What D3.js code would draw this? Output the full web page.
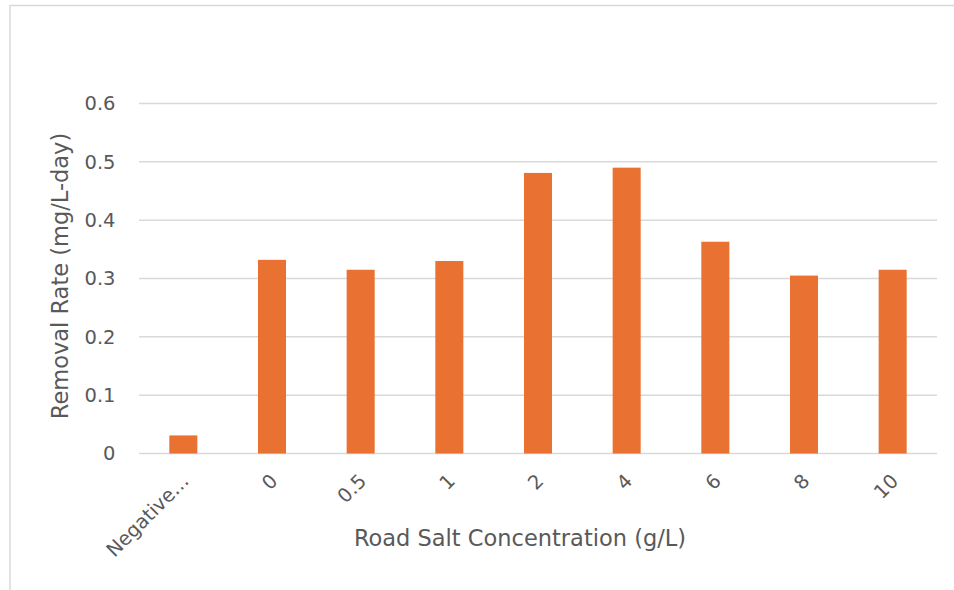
<!DOCTYPE html>
<html>
<head>
<meta charset="utf-8">
<script src="https://cdn.jsdelivr.net/npm/d3@7"></script>
<style>
  html, body { margin: 0; padding: 0; background: #fff; }
  svg { display: block; }
  text { font-family: "DejaVu Sans", sans-serif; fill: #595959; }
</style>
</head>
<body>
<svg id="chart" width="954" height="590"></svg>
<script>
const categories = ["Negative\u2026", "0", "0.5", "1", "2", "4", "6", "8", "10"];
const values = [0.031, 0.332, 0.315, 0.330, 0.481, 0.490, 0.363, 0.305, 0.315];
const yTicks = [0, 0.1, 0.2, 0.3, 0.4, 0.5, 0.6];
const xTitle = "Road Salt Concentration (g/L)";
const yTitle = "Removal Rate (mg/L-day)";

const FONT = "DejaVu Sans, sans-serif";
const svg = d3.select("#chart");
const mLeft = 139, mRight = 937, mTop = 103.5, mBottom = 453.5;

// outer chart border
svg.append("path")
  .attr("d", `M10,590 V5.5 H954`)
  .attr("fill", "none")
  .attr("stroke", "#d9d9d9")
  .attr("stroke-width", 1.5);

const x = d3.scaleBand().domain(categories).range([mLeft, mRight])
  .paddingInner(0.684).paddingOuter(0.342);
const y = d3.scaleLinear().domain([0, 0.6]).range([mBottom, mTop]);

// gridlines
svg.append("g").selectAll("line").data(yTicks).join("line")
  .attr("x1", mLeft).attr("x2", mRight)
  .attr("y1", d => y(d)).attr("y2", d => y(d))
  .attr("stroke", "#d9d9d9").attr("stroke-width", 1.5);

// y axis labels
const yAxis = d3.axisLeft(y).tickValues(yTicks).tickSize(0).tickPadding(0)
  .tickFormat(d => d === 0 ? "0" : d3.format(".1f")(d));
const gy = svg.append("g").attr("transform", `translate(115.5,0)`).call(yAxis);
gy.select(".domain").remove();
gy.attr("font-family", FONT).attr("font-size", 19.5);
gy.selectAll("text").attr("fill", "#595959");

// bars
svg.append("g").selectAll("rect").data(values).join("rect")
  .attr("x", (d, i) => x(categories[i]))
  .attr("width", x.bandwidth())
  .attr("y", d => y(d))
  .attr("height", d => y(0) - y(d))
  .attr("fill", "#E97132");

// x axis labels
const xAxis = d3.axisBottom(x).tickSize(0).tickPadding(0);
const gx = svg.append("g").attr("transform", `translate(0,${mBottom})`).call(xAxis);
gx.select(".domain").remove();
gx.attr("font-family", FONT).attr("font-size", 19.5);
gx.selectAll("text")
  .attr("fill", "#595959")
  .attr("text-anchor", "end")
  .attr("y", 0)
  .attr("dy", "0.35em")
  .attr("transform", "translate(2,24) rotate(-45)");

// axis titles
svg.append("text")
  .attr("x", 520).attr("y", 546)
  .attr("text-anchor", "middle")
  .attr("font-family", FONT)
  .attr("font-size", 22.5)
  .text(xTitle);

svg.append("text")
  .attr("transform", `translate(68,276) rotate(-90)`)
  .attr("text-anchor", "middle")
  .attr("font-family", FONT)
  .attr("font-size", 22.5)
  .text(yTitle);
</script>
</body>
</html>
